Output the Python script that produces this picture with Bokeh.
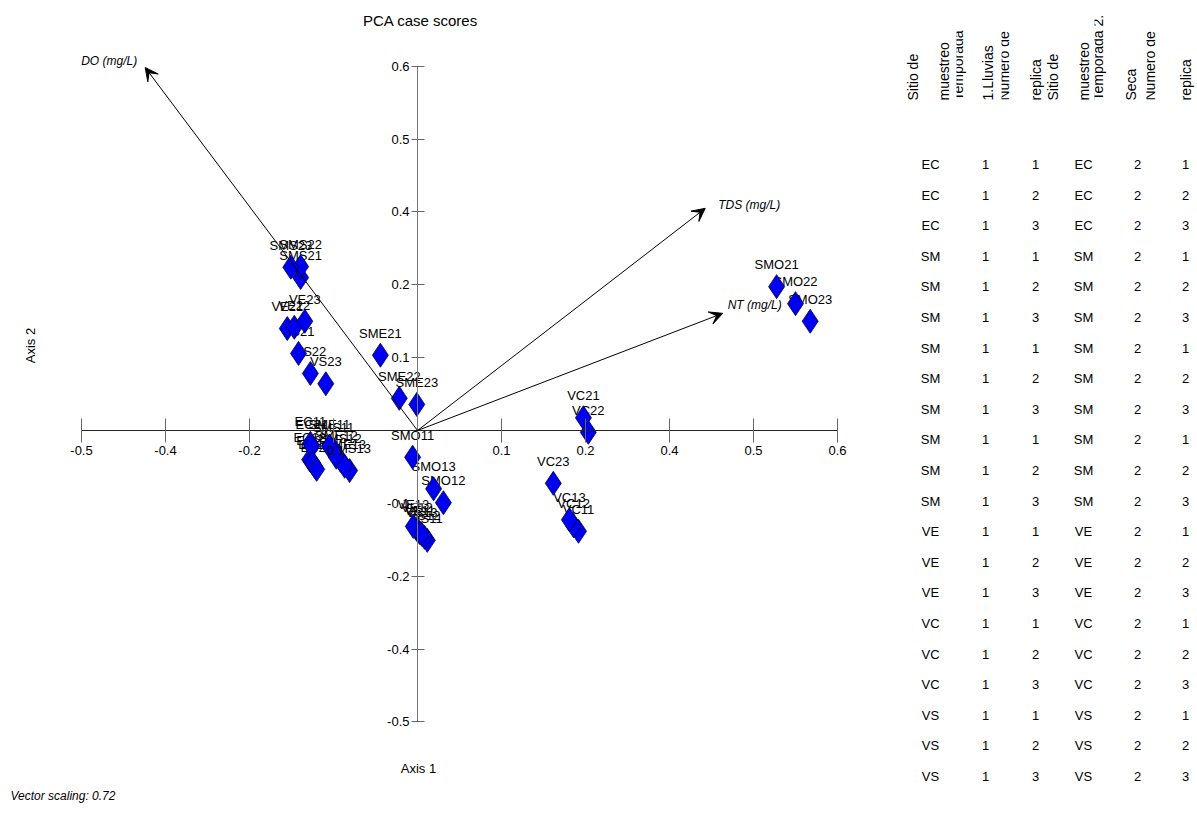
import math
from bokeh.plotting import figure
from bokeh.models import (Range1d, FixedTicker, Arrow, VeeHead, Label,
                          ColumnDataSource, NumeralTickFormatter)
from bokeh.layouts import row
from bokeh.core.properties import value
from bokeh.embed import file_html
from bokeh.resources import INLINE

# ---------------- data ----------------
case_names = ["EC11", "EC12", "EC13", "EC21", "EC22", "EC23",
              "SMS11", "SMS12", "SMS13", "SMS21", "SMS22", "SMS23",
              "SME11", "SME12", "SME13", "SME21", "SME22", "SME23",
              "SMO11", "SMO12", "SMO13", "SMO21", "SMO22", "SMO23",
              "VE11", "VE12", "VE13", "VE21", "VE22", "VE23",
              "VC11", "VC12", "VC13", "VC21", "VC22", "VC23",
              "VS11", "VS12", "VS13", "VS21", "VS22", "VS23"]
axis1_scores = [-0.153, -0.154, -0.147, -0.151, -0.150, -0.144,
                -0.120, -0.110, -0.097, -0.167, -0.167, -0.181,
                -0.126, -0.116, -0.104, -0.053, -0.026, -0.001,
                -0.007, 0.037, 0.023, 0.513, 0.540, 0.561,
                0.003, -0.001, -0.006, -0.186, -0.176, -0.161,
                0.230, 0.223, 0.217, 0.237, 0.244, 0.194,
                0.014, 0.010, 0.006, -0.170, -0.153, -0.131]
axis2_scores = [-0.021, -0.048, -0.059, -0.026, -0.053, -0.064,
                -0.031, -0.049, -0.066, 0.252, 0.270, 0.269,
                -0.026, -0.044, -0.059, 0.124, 0.053, 0.043,
                -0.044, -0.119, -0.096, 0.237, 0.209, 0.180,
                -0.168, -0.163, -0.158, 0.168, 0.170, 0.180,
                -0.166, -0.157, -0.147, 0.021, -0.003, -0.087,
                -0.181, -0.176, -0.171, 0.127, 0.094, 0.077]

var_names = ["DO (mg/L)", "TDS (mg/L)", "NT (mg/L)"]
var_axis1 = [-0.389, 0.411, 0.436]
var_axis2 = [0.598, 0.366, 0.193]

tick_values = [-0.48, -0.36, -0.24, -0.12, 0.12, 0.24, 0.36, 0.48, 0.6]

table_headers = [["Sitio de", "muestreo"], ["Temporada", "1.Lluvias"],
                 ["Numero de", "replica"], ["Sitio de", "muestreo"],
                 ["Temporada 2.", "Seca"], ["Numero de", "replica"]]
site_s1 = ["EC", "EC", "EC", "SM", "SM", "SM", "SM", "SM", "SM", "SM", "SM",
           "SM", "VE", "VE", "VE", "VC", "VC", "VC", "VS", "VS", "VS"]
season_s1 = ["1"] * 21
replica_s1 = ["1", "2", "3"] * 7
site_s2 = list(site_s1)
season_s2 = ["2"] * 21
replica_s2 = ["1", "2", "3"] * 7

# ---------------- layout constants ----------------
FONT = "Liberation Sans"
W_ALL, H = 1197, 814
W1 = 885
PX_X, PX_Y = 700.0, 607.0          # pixels per unit
OX, OY = 417, 430                  # origin in figure pixels

x_rng = Range1d(-OX / PX_X, (W1 - OX) / PX_X)
y_rng = Range1d(-(H - OY) / PX_Y, OY / PX_Y)

p = figure(width=W1, height=H, x_range=x_rng, y_range=y_rng,
           output_backend="svg", toolbar_location=None, title=None,
           min_border=0, min_border_left=0, min_border_right=0,
           min_border_top=0, min_border_bottom=0)
p.grid.visible = False
p.outline_line_color = None

for ax in (p.xaxis[0], p.yaxis[0]):
    ax.fixed_location = 0
    ax.bounds = (-0.48, 0.6)
    ax.ticker = FixedTicker(ticks=tick_values)
    ax.formatter = NumeralTickFormatter(format="0.0")
    ax.minor_tick_line_color = None
    ax.major_tick_line_color = "#666666"
    ax.major_label_text_font = FONT
    ax.major_label_text_font_size = "13px"
    ax.major_label_text_color = "black"
p.xaxis.axis_line_color = "#222222"
p.yaxis.axis_line_color = "#777777"
p.xaxis.major_tick_in = 12
p.xaxis.major_tick_out = 12
p.xaxis.major_label_standoff = 3
p.yaxis.major_tick_in = 7
p.yaxis.major_tick_out = 6
p.yaxis.major_label_standoff = 2

# vectors
vsrc = ColumnDataSource(dict(name=var_names, x=var_axis1, y=var_axis2,
                             xo=[-8, 13, 5], yo=[-7, -3, -8],
                             al=["right", "left", "left"]))
for xv, yv in zip(var_axis1, var_axis2):
    p.add_layout(Arrow(end=VeeHead(size=13, fill_color="black", line_color="black"),
                       x_start=0, y_start=0, x_end=xv, y_end=yv,
                       line_color="black", line_width=1))
p.text(x="x", y="y", text="name", source=vsrc, x_offset="xo", y_offset="yo",
       text_align="al", text_baseline="middle", text_font=value(FONT),
       text_font_size="12px", text_font_style="italic", text_color="black")

# case scores
src = ColumnDataSource(dict(name=case_names, x=axis1_scores, y=axis2_scores))
p.text(x="x", y="y", text="name", source=src, y_offset=-22,
       text_align="center", text_baseline="middle", text_font=value(FONT),
       text_font_size="13px", text_color="black")
p.scatter(x="x", y="y", source=src, marker="diamond", size=24,
          fill_color="#0000F0", line_color="#000040", line_width=0.8)

# annotations
p.add_layout(Label(x=420, y=H - 20, x_units="screen", y_units="screen",
                   text="PCA case scores", text_align="center",
                   text_baseline="middle", text_font=FONT,
                   text_font_size="15px", text_color="black"))
p.add_layout(Label(x=418, y=H - 768, x_units="screen", y_units="screen",
                   text="Axis 1", text_align="center", text_baseline="middle",
                   text_font=FONT, text_font_size="13px", text_color="black"))
p.add_layout(Label(x=30, y=H - 345, x_units="screen", y_units="screen",
                   text="Axis 2", text_align="center", text_baseline="middle",
                   angle=math.pi / 2, text_font=FONT, text_font_size="13px",
                   text_color="black"))
p.add_layout(Label(x=10, y=H - 795, x_units="screen", y_units="screen",
                   text="Vector scaling: 0.72", text_align="left",
                   text_baseline="middle", text_font=FONT,
                   text_font_style="italic", text_font_size="12px",
                   text_color="black"))

# ---------------- table ----------------
TW = W_ALL - W1
t = figure(width=TW, height=H, x_range=Range1d(W1, W_ALL),
           y_range=Range1d(H, 0), output_backend="svg",
           toolbar_location=None, title=None, x_axis_type=None,
           y_axis_type=None, min_border=0, min_border_left=0,
           min_border_right=0, min_border_top=0, min_border_bottom=0)
t.grid.visible = False
t.outline_line_color = None

col_x = [930, 985, 1035, 1083, 1137, 1185]
line1_x = [912, 957, 1003, 1052, 1097, 1149]
line2_x = [943, 987, 1035, 1083, 1130, 1185]
clip_edge = [None, 956, 1001, None, 1094, 1146]
HEAD_Y = 100

clipped = [(line1_x[i], table_headers[i][0]) for i in range(6) if clip_edge[i]]
free = [(line1_x[i], table_headers[i][0]) for i in range(6) if not clip_edge[i]]
free += [(line2_x[i], table_headers[i][1]) for i in range(6)]

hkw = dict(angle=math.pi / 2, text_align="left", text_baseline="middle",
           text_font=value(FONT), text_font_size="14px",
           text_color="black")
t.text(x=[c[0] for c in clipped], y=[HEAD_Y] * len(clipped),
       text=[c[1] for c in clipped], **hkw)
edges = [(line1_x[i], clip_edge[i]) for i in range(6) if clip_edge[i]]
t.quad(left=[e[0] - 10 for e in edges], right=[e[1] for e in edges],
       top=[0] * len(edges), bottom=[112] * len(edges),
       fill_color="white", line_color=None)
t.text(x=[c[0] for c in free], y=[HEAD_Y] * len(free),
       text=[c[1] for c in free], **hkw)

row_y = [164 + 30.6 * i for i in range(len(site_s1))]
for cx, col in zip(col_x, [site_s1, season_s1, replica_s1,
                           site_s2, season_s2, replica_s2]):
    t.text(x=[cx] * len(col), y=row_y, text=col, text_align="center",
           text_baseline="middle", text_font=value(FONT),
           text_font_size="13px", text_color="black")

layout = row(p, t)
open("out.html", "w").write(file_html(layout, INLINE))
